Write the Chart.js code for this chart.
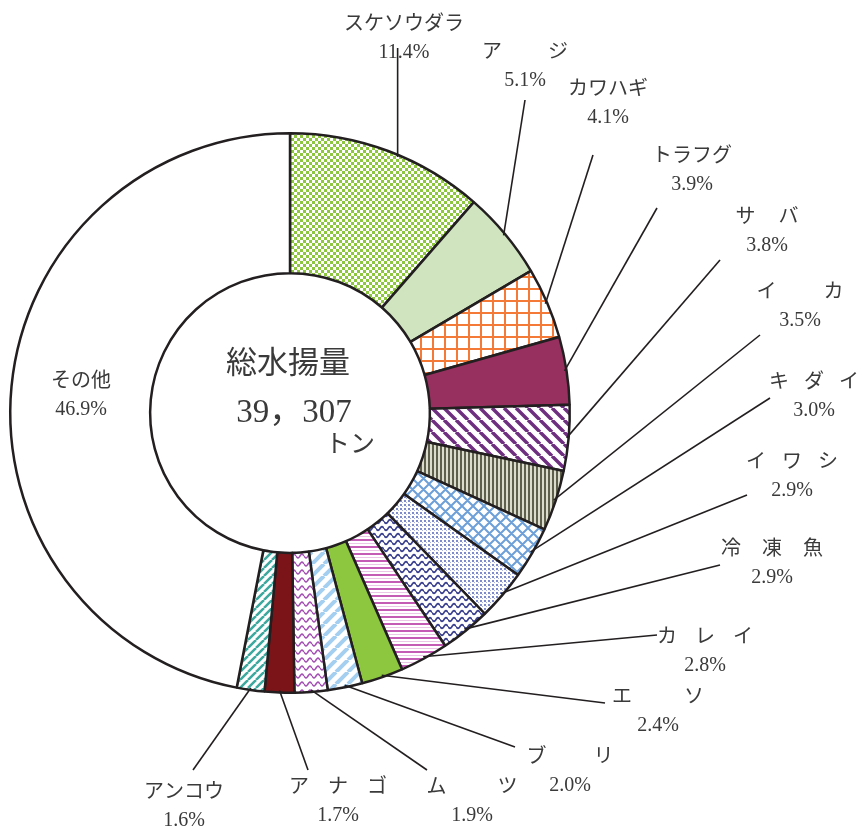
<!DOCTYPE html>
<html>
<head>
<meta charset="utf-8">
<script src="https://cdn.jsdelivr.net/npm/chart.js@4/dist/chart.umd.min.js"></script>
<style>
html,body{margin:0;padding:0;background:#fff;}
canvas{display:block;}
</style>
</head>
<body>
<canvas id="c" width="868" height="832"></canvas>
<script>
// ---- data ----
const categories = ['スケソウダラ','アジ','カワハギ','トラフグ','サバ','イカ','キダイ','イワシ','冷凍魚','カレイ','エソ','ブリ','ムツ','アナゴ','アンコウ','その他'];
const shares = [11.4, 5.1, 4.1, 3.9, 3.8, 3.5, 3.0, 2.9, 2.9, 2.8, 2.4, 2.0, 1.9, 1.7, 1.6, 46.9];
const centerTitle = '総水揚量';
const totalCatch = '39，307';
const totalUnit = 'トン';

// ---- layout (relative to doughnut centre, px) ----
const labelGap = [0,46,0,0,23,47,15,16,21,18,52,47,51,19,0,0];
const leaderFrom = [0.555,0.5,0.5,0.5,0.5,0.5,0.5,0.5,0.5,0.5,0.5,0.5,0.5,0.5,0.5,0.5];
const leaderEnd = [[108,-365],[235,-313],[303,-258],[367,-205],[430,-153],[470,-78],[480,-15],[457,82],[430,152],[367,222],[315,290],[225,334],[137,357],[18,357],[-97,357],null];
const labelAt = [[114,-388],[235,-360],[318,-323],[402,-256],[477,-195],[510,-120],[524,-30],[502,50],[482,137],[415,225],[368,285],[280,345],[182,375],[48,375],[-106,380],[-209,-31]];

// ---- pattern fills ----
function pat(w,h,draw){const c=document.createElement('canvas');c.width=w;c.height=h;const x=c.getContext('2d');x.fillStyle='#fff';x.fillRect(0,0,w,h);draw(x,w,h);return x.createPattern(c,'repeat');}
function diag(color,s,lw,dir){return pat(s,s,(x)=>{x.strokeStyle=color;x.lineWidth=lw;x.beginPath();for(const k of [-s,0,s]){if(dir==='\\'){x.moveTo(k,0);x.lineTo(k+s,s);}else{x.moveTo(k,s);x.lineTo(k+s,0);}}x.stroke();});}
function wave(color,w,h,amp,lw){return pat(w,h,(x)=>{x.strokeStyle=color;x.lineWidth=lw;x.beginPath();for(let i=0;i<=w;i+=0.5){const y=h/2+amp*Math.sin(2*Math.PI*i/w);if(i===0)x.moveTo(i,y);else x.lineTo(i,y);}x.stroke();});}
const fills = [
  pat(6,6,(x)=>{x.fillStyle='#8dc63f';x.fillRect(0,0,6,6);x.fillStyle='#fff';x.fillRect(0,0,3,3);x.fillRect(3,3,3,3);}),
  '#cfe4bf',
  pat(12,12,(x)=>{x.fillStyle='#f47a38';x.fillRect(0,0,12,2);x.fillRect(0,0,2,12);}),
  '#97305f',
  diag('#6e2f80',12,3.5,'\\'),
  pat(4,4,(x)=>{x.fillStyle='#dcdccc';x.fillRect(0,0,4,4);x.fillStyle='#5f604c';x.fillRect(0,0,2,4);}),
  pat(11,11,(x)=>{x.strokeStyle='#6d9fd8';x.lineWidth=2;x.beginPath();for(const k of [-11,0,11]){x.moveTo(k,0);x.lineTo(k+11,11);x.moveTo(k,11);x.lineTo(k+11,0);}x.stroke();}),
  pat(4,4,(x)=>{x.fillStyle='#7f8ccc';x.fillRect(0,0,2,2);x.fillStyle='#a9b3dd';x.fillRect(2,2,1,1);}),
  wave('#3d4290',8,7,1.8,1.7),
  pat(1,7,(x)=>{x.fillStyle='#c45cb6';x.fillRect(0,0,1,2);x.fillStyle='#ebc6e6';x.fillRect(0,4,1,1);}),
  '#8dc63f',
  diag('#a5cff0',12,4,'/'),
  wave('#a451b4',8,8,1.8,1.6),
  '#7b1418',
  diag('#3ca89e',8,2.5,'/'),
  '#ffffff'
];

const TXT = '#3a3a3a';
const FONT = "20px 'Liberation Serif', 'Noto Sans CJK JP'";

function spacedText(ctx, s, gap, cx, cy){
  const chars = Array.from(s);
  const widths = chars.map(ch=>ctx.measureText(ch).width);
  const total = widths.reduce((a,b)=>a+b,0) + gap*(chars.length-1);
  let x = cx - total/2;
  ctx.textAlign='left';
  chars.forEach((ch,i)=>{ctx.fillText(ch,x,cy);x+=widths[i]+gap;});
}

const labelPlugin = {
  id:'labels',
  afterDatasetsDraw(chart){
    const ctx = chart.ctx;
    const arcs = chart.getDatasetMeta(0).data;
    const cx = arcs[0].x, cy = arcs[0].y;
    ctx.save();
    // leader lines
    ctx.strokeStyle='#231f20';ctx.lineWidth=1.6;
    arcs.forEach((a,i)=>{
      const e = leaderEnd[i]; if(!e) return;
      const p = a.getProps(['startAngle','endAngle','outerRadius'],true);
      const ang = p.startAngle + leaderFrom[i]*(p.endAngle-p.startAngle);
      const r = p.outerRadius - 2;
      const sx = cx+Math.cos(ang)*r, sy = cy+Math.sin(ang)*r;
      ctx.beginPath();
      ctx.moveTo(sx, sy);
      ctx.lineTo(i===0 ? sx : cx+e[0], cy+e[1]);
      ctx.stroke();
    });
    // labels
    ctx.fillStyle=TXT;ctx.font=FONT;ctx.textBaseline='middle';
    categories.forEach((name,i)=>{
      const [lx,ly] = labelAt[i];
      spacedText(ctx, name, labelGap[i], cx+lx, cy+ly);
      ctx.textAlign='center';
      ctx.fillText(shares[i].toFixed(1)+'%', cx+lx, cy+ly+28);
    });
    // centre text
    ctx.textAlign='center';
    ctx.font="31px 'Liberation Serif', 'Noto Sans CJK JP'";
    ctx.fillText(centerTitle, cx-2, cy-48);
    ctx.font="33px 'Liberation Serif', 'Noto Sans CJK JP'";
    ctx.fillText(totalCatch, cx+4, cy);
    ctx.font="25px 'Liberation Serif', 'Noto Sans CJK JP'";
    ctx.fillText(totalUnit, cx+60, cy+32);
    ctx.restore();
  }
};

new Chart(document.getElementById('c'), {
  type:'doughnut',
  data:{labels:categories, datasets:[{data:shares, backgroundColor:fills, borderColor:'#231f20', borderWidth:2.5}]},
  options:{
    responsive:false, animation:false, events:[], cutout:'50%',
    layout:{padding:{left:9, top:132, right:297, bottom:138}},
    plugins:{legend:{display:false}, tooltip:{enabled:false}}
  },
  plugins:[labelPlugin]
});
</script>
</body>
</html>
